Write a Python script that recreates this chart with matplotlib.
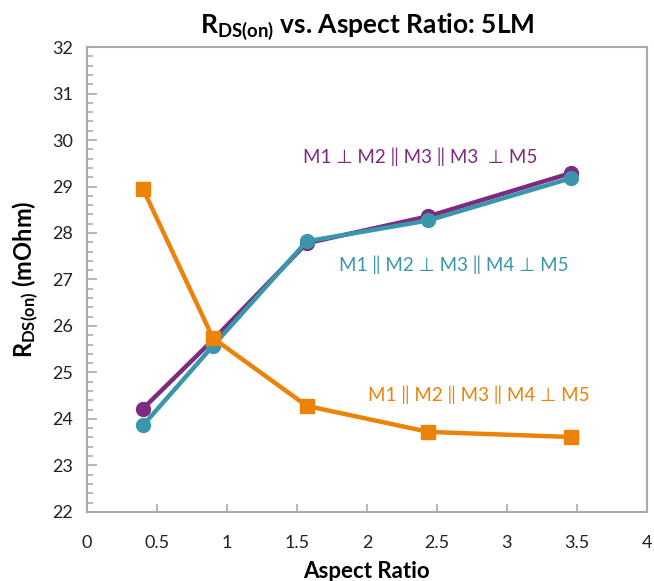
import matplotlib
matplotlib.use("Agg")
import matplotlib.pyplot as plt
from matplotlib.ticker import MultipleLocator

plt.rcParams['font.family'] = ['Lato', 'DejaVu Sans']
plt.rcParams['mathtext.fontset'] = 'custom'
plt.rcParams['mathtext.bf'] = 'Lato:bold'
plt.rcParams['mathtext.rm'] = 'Lato'

aspect_ratio = [0.40, 0.90, 1.57, 2.44, 3.46]
series_purple = [24.22, 25.70, 27.78, 28.36, 29.29]
series_teal = [23.86, 25.57, 27.82, 28.27, 29.18]
series_orange = [28.95, 25.74, 24.28, 23.72, 23.61]

label_purple = "M1 ⊥ M2 ‖ M3 ‖ M3  ⊥ M5"
label_teal = "M1 ‖ M2 ⊥ M3 ‖ M4 ⊥ M5"
label_orange = "M1 ‖ M2 ‖ M3 ‖ M4 ⊥ M5"

c_purple = "#7D2A80"
c_teal = "#3A97AB"
c_orange = "#EC8207"

fig = plt.figure(figsize=(6.54, 5.81), dpi=100)
ax = fig.add_axes([0.133, 0.119, 0.856, 0.800])

ax.plot(aspect_ratio, series_purple, color=c_purple, lw=3.2, marker='o', ms=10, zorder=3)
ax.plot(aspect_ratio, series_teal, color=c_teal, lw=3.2, marker='o', ms=10, zorder=4)
ax.plot(aspect_ratio, series_orange, color=c_orange, lw=3.2, marker='s', ms=10, zorder=5)

ax.set_xlim(0, 4)
ax.set_ylim(22, 32)
ax.yaxis.set_major_locator(MultipleLocator(1))
ax.yaxis.set_minor_locator(MultipleLocator(0.2))
ax.set_xticks([0, 0.5, 1, 1.5, 2, 2.5, 3, 3.5, 4])
ax.set_xticklabels(['0', '0.5', '1', '1.5', '2', '2.5', '3', '3.5', '4'])

gray = '#AAAAAA'
for s in ax.spines.values():
    s.set_color(gray)
    s.set_linewidth(1.5)
ax.tick_params(axis='both', which='both', direction='in', color=gray, labelsize=13, labelcolor='#222222')
ax.tick_params(axis='x', which='major', length=6, width=1.2, pad=17)
ax.tick_params(axis='y', which='major', length=7, width=1.2, pad=10)
ax.tick_params(axis='y', which='minor', length=4, width=1.2)
ax.tick_params(top=False, right=False)

ax.set_title(r'$\mathbf{R_{DS(on)}}$ vs. Aspect Ratio: 5LM', fontsize=19, fontweight='bold', pad=10)
ax.set_xlabel('Aspect Ratio', fontsize=16, fontweight='bold', labelpad=7)
ax.set_ylabel(r'$\mathbf{R_{DS(on)}}$ (mOhm)', fontsize=17, fontweight='bold', labelpad=8)

ax.text(2.38, 29.65, label_purple, color=c_purple, fontsize=13.5, ha='center', va='center')
ax.text(2.62, 27.31, label_teal, color=c_teal, fontsize=13.5, ha='center', va='center')
ax.text(2.8, 24.52, label_orange, color=c_orange, fontsize=13.5, ha='center', va='center')

fig.savefig('out.png', dpi=100)
